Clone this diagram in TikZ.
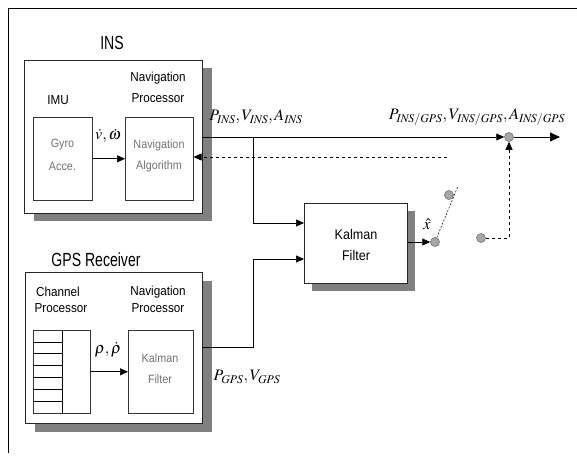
\documentclass[tikz,border=0pt]{standalone}
\usepackage{mathptmx}
\usepackage{fontspec}
\setmainfont{Liberation Sans}
\newfontfamily\narrowfont[FakeStretch=0.74]{Liberation Sans}
\newfontfamily\semifont[FakeStretch=0.9]{Liberation Sans}
\usetikzlibrary{arrows.meta,calc}
\begin{document}
\begin{tikzpicture}[x=1pt,y=-1pt,
  box/.style={draw=black!85,line width=0.8pt,fill=white,inner sep=0pt,anchor=north west},
  ibox/.style={draw=black!80,line width=0.6pt,fill=white,inner sep=0pt,anchor=north west},
  shadowfill/.style={fill=black!50},
  lbl/.style={font=\semifont\fontsize{13}{13}\selectfont,inner sep=0pt},
  glbl/.style={font=\semifont\fontsize{12}{12}\selectfont,text=black!55,inner sep=0pt},
  ttl/.style={font=\narrowfont\fontsize{19}{19}\selectfont,inner sep=0pt},
  mlbl/.style={font=\fontsize{16}{16}\selectfont,inner sep=0pt},
  arr/.style={line width=0.7pt,-{Triangle[length=8pt,width=7pt]}},
  sw/.style={circle,draw=black!60,fill=black!35,minimum size=9pt,inner sep=0pt,line width=0.5pt},
  swline/.style={line width=0.5pt,dash pattern=on 2pt off 1.5pt}
]
\useasboundingbox (0,0) rectangle (577,455);
% outer frame
\draw[line width=0.8pt] (8,453) -- (8,8) -- (577,8);

% ---------------- INS ----------------
\fill[shadowfill] (34,68) rectangle (212,221);
\node[box,minimum width=178pt,minimum height=153pt] (ins) at (24,60) {};
\node[ttl] (inst) at (112,43) {INS};
\node[lbl] (imut) at (58,100) {IMU};
\node[lbl] (np1) at (158,78) {Navigation};
\node[lbl] (np2) at (158,98) {Processor};
\node[ibox,minimum width=59pt,minimum height=83pt] (gyro) at (33,117) {};
\node[glbl] (gyt) at (62.5,145) {Gyro};
\node[glbl] (act) at (62.5,166) {Acce.};
\node[ibox,minimum width=68pt,minimum height=83pt] (navalg) at (125,117) {};
\node[glbl] (nat1) at (159,145) {Navigation};
\node[glbl] (nat2) at (159,166) {Algorithm};
\draw[arr] (gyro.east) -- (navalg.west);
\node[mlbl] (vw) at (108,136) {$\dot{v},\dot{\omega}$};

% ---------------- GPS ----------------
\fill[shadowfill] (35,281) rectangle (212,432);
\node[box,minimum width=177pt,minimum height=151pt] (gps) at (25,272) {};
\node[ttl] (gpst) at (96,260) {GPS Receiver};
\node[lbl] (cp1) at (58,292) {Channel};
\node[lbl] (cp2) at (61,308) {Processor};
\node[lbl] (gp1) at (158,292) {Navigation};
\node[lbl] (gp2) at (158,308) {Processor};
\node[ibox,minimum width=57pt,minimum height=83pt] (chan) at (33,330) {};
\foreach \i in {1,...,6}{
  \draw[line width=0.6pt] (33,{330+\i*83/7}) -- (62,{330+\i*83/7});
}
\draw[line width=0.6pt] (62,330) -- (62,413);
\node[ibox,minimum width=65pt,minimum height=83pt] (gkf) at (128,330) {};
\node[glbl] (gk1) at (160,358) {Kalman};
\node[glbl] (gk2) at (160,379) {Filter};
\draw[arr] (chan.east) -- (gkf.west);
\node[mlbl] (rho) at (108,350) {$\rho,\dot{\rho}$};

% ---------------- Kalman filter ----------------
\fill[shadowfill] (312,211) rectangle (415,291);
\node[box,minimum width=103pt,minimum height=80pt] (kf) at (304,203) {};
\node[font=\semifont\fontsize{14}{14}\selectfont,inner sep=0pt] (kft1) at (356,234) {Kalman};
\node[font=\semifont\fontsize{14}{14}\selectfont,inner sep=0pt] (kft2) at (356,255) {Filter};

% ---------------- switch and sum ----------------
\node[sw] (sum) at (509,137) {};
\node[sw] (s1) at (435,242) {};
\node[sw] (s2) at (449,195) {};
\node[sw] (s3) at (481,238) {};
\coordinate (swend) at (458,186);

% ---------------- connectors ----------------
\coordinate (insout) at (202,137);
\coordinate (split1) at (253,137);
\coordinate (kfin1) at (304,223);
\coordinate (kfin2) at (304,259);
\coordinate (gpsout) at (202,347);
\coordinate (gpsbend) at (253,347);
\coordinate (fbstart) at (447,157);
\coordinate (out) at (560,137);

\draw[arr] (insout) -- (sum.west);
\draw[arr] (split1) |- (kfin1);
\draw[arr,dashed,line width=0.6pt] (fbstart) -- (navalg.east |- fbstart);
\draw[arr] (gpsout) -- (gpsbend) |- (kfin2);
\draw[arr] (kf.east |- s1) -- (s1.west);
\draw[swline] (s1) -- (swend);
\draw[arr,dashed,line width=0.6pt] (s3.east) -| (sum.south);
\draw[line width=0.8pt,-{Triangle[length=10pt,width=9pt]}] (sum.east) -- (out);

% ---------------- signal labels ----------------
\node[mlbl] (pins) at (256,117) {$P_{\mathit{INS}},V_{\mathit{INS}},A_{\mathit{INS}}$};
\node[mlbl] (pig) at (477,117) {$P_{\mathit{INS/GPS}},V_{\mathit{INS/GPS}},A_{\mathit{INS/GPS}}$};
\node[mlbl] (xh) at (427,224) {$\hat{x}$};
\node[mlbl] (pg) at (247,377) {$P_{\mathit{GPS}},V_{\mathit{GPS}}$};
\end{tikzpicture}
\end{document}
